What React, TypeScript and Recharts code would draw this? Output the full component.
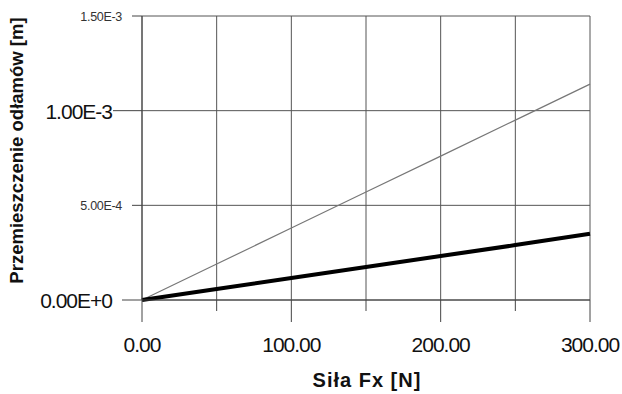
import React from 'react';
import { LineChart, Line, XAxis, YAxis, CartesianGrid } from 'recharts';

const forces = [0, 50, 100, 150, 200, 250, 300];
const thinSeries = [0, 1.9e-4, 3.8e-4, 5.7e-4, 7.6e-4, 9.5e-4, 1.14e-3];
const thickSeries = [0, 5.8e-5, 1.16e-4, 1.74e-4, 2.32e-4, 2.9e-4, 3.5e-4];
const xTicks = [0, 50, 100, 150, 200, 250, 300];
const xMajor = [0, 100, 200, 300];
const yTicks = [0, 5e-4, 1e-3, 1.5e-3];
const yLabels = ['0.00E+0', '5.00E-4', '1.00E-3', '1.50E-3'];

const data = forces.map((f, i) => ({ f, thin: thinSeries[i], thick: thickSeries[i] }));

const FONT = '"Liberation Sans", Arial, sans-serif';
const AXIS = '#444';

const XTick = (props: any) => {
  const { x, y, payload } = props;
  const major = xMajor.includes(payload.value);
  return (
    <g>
      <line x1={x} x2={x} y1={y} y2={y + (major ? 22 : 11)} stroke={AXIS} strokeWidth={1} />
      {major && (
        <text x={x} y={y + 52} textAnchor="middle" fontFamily={FONT} fontSize={21} letterSpacing={-1} fill="#111">
          {payload.value.toFixed(2)}
        </text>
      )}
    </g>
  );
};

const YTick = (props: any) => {
  const { x, y, payload } = props;
  const idx = yTicks.indexOf(payload.value);
  const big = idx % 2 === 0;
  const len = idx === 2 ? 29 : big ? 20 : 10;
  return (
    <g>
      <line x1={x - len} x2={x} y1={y} y2={y} stroke={AXIS} strokeWidth={1} />
      {big ? (
        <text x={x - 30} y={y + 8} textAnchor="end" fontFamily={FONT} fontSize={21} letterSpacing={-1} fill="#111">
          {yLabels[idx]}
        </text>
      ) : (
        <text x={x - 20} y={y + 4.5} textAnchor="end" fontFamily={FONT} fontSize={12.5} letterSpacing={-0.3} fill="#333">
          {yLabels[idx]}
        </text>
      )}
    </g>
  );
};

export default function App() {
  return (
    <div style={{ position: 'absolute', left: 0, top: 0, width: 622, height: 394, background: '#fff' }}>
      <LineChart width={622} height={394} data={data} margin={{ top: 16, right: 32, bottom: 0, left: 0 }}>
        <CartesianGrid stroke="#555" strokeWidth={1} />
        <XAxis
          dataKey="f"
          type="number"
          domain={[0, 300]}
          ticks={xTicks}
          interval={0}
          height={94}
          tickSize={0}
          tickMargin={0}
          tickLine={false}
          axisLine={{ stroke: AXIS }}
          tick={<XTick />}
        />
        <YAxis
          type="number"
          domain={[0, 0.0015]}
          ticks={yTicks}
          interval={0}
          width={142}
          tickSize={0}
          tickMargin={0}
          tickLine={false}
          axisLine={{ stroke: AXIS }}
          tick={<YTick />}
        />
        <Line type="linear" dataKey="thin" stroke="#777" strokeWidth={1.2} dot={false} isAnimationActive={false} />
        <Line type="linear" dataKey="thick" stroke="#000" strokeWidth={4} dot={false} isAnimationActive={false} />
        <text x={367} y={387} textAnchor="middle" fontFamily={FONT} fontSize={20} fontWeight="bold" letterSpacing={1} fill="#111">
          Siła Fx [N]
        </text>
        <text
          x={23}
          y={150.5}
          transform="rotate(-90 23 150.5)"
          textAnchor="middle"
          fontFamily={FONT}
          fontSize={18.5}
          fontWeight="bold"
          fill="#111"
        >
          Przemieszczenie odłamów [m]
        </text>
      </LineChart>
    </div>
  );
}
